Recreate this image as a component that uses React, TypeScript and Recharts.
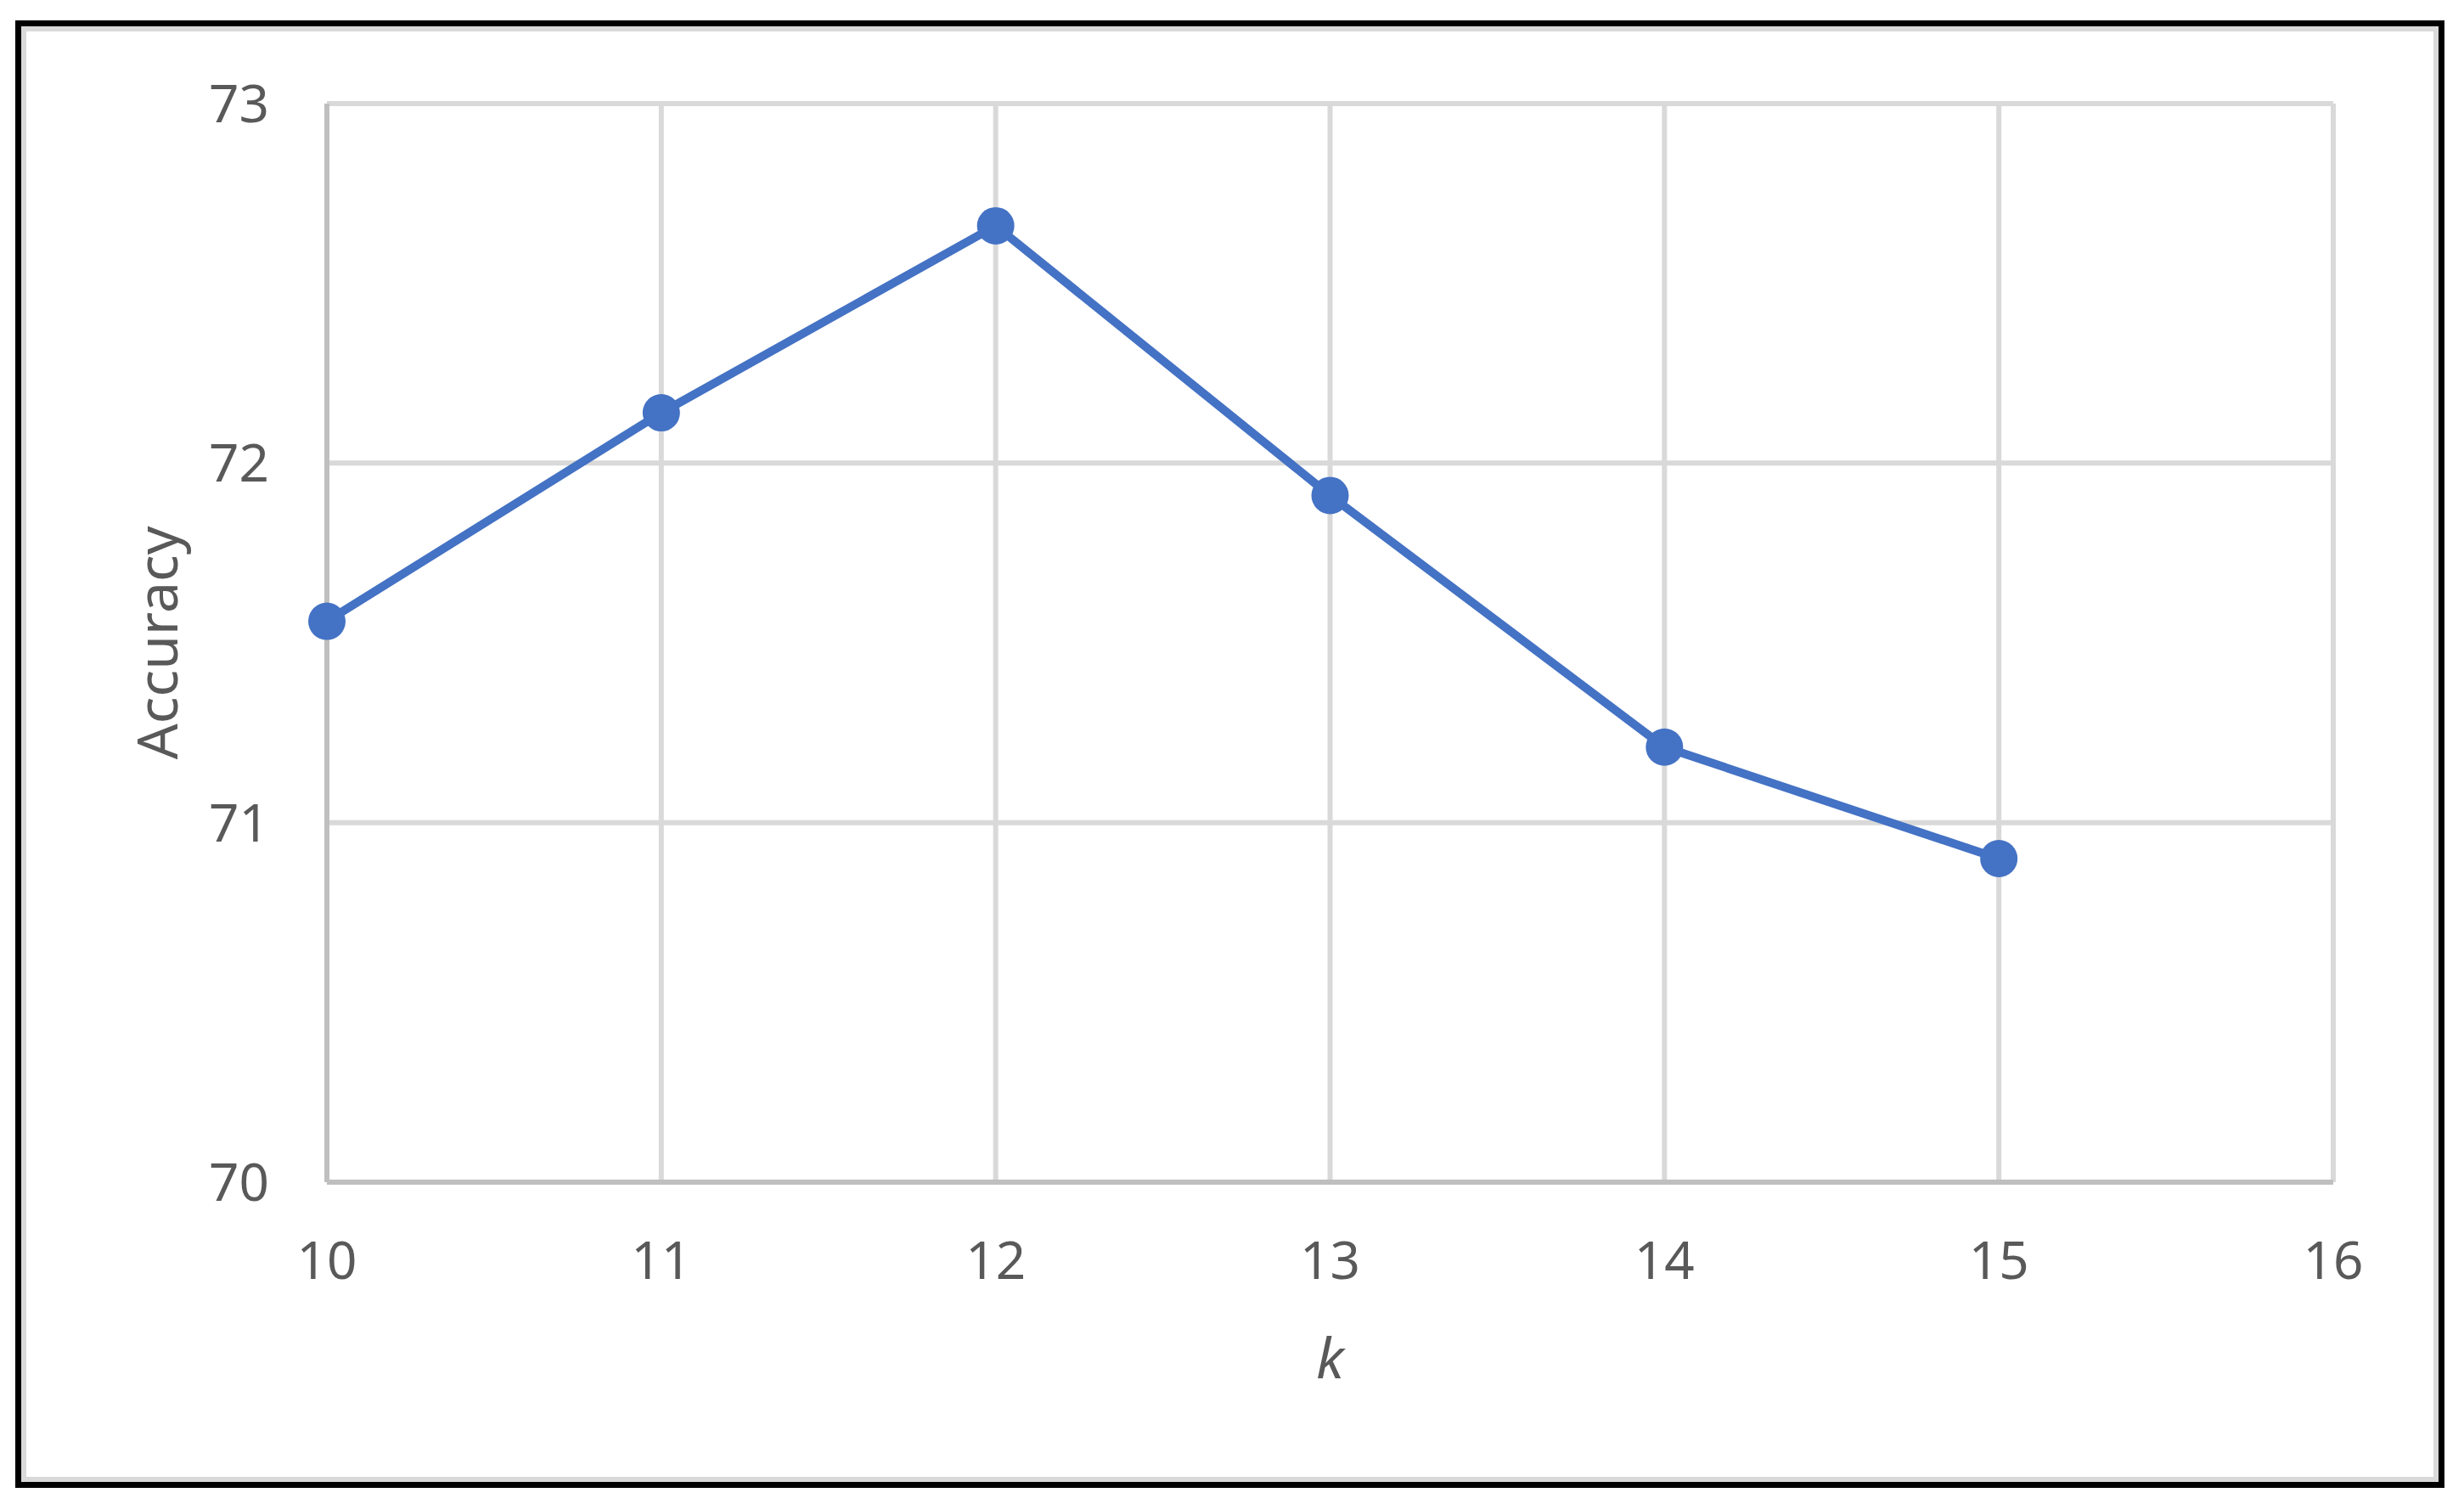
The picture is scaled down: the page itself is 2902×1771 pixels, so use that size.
import { LineChart, Line, XAxis, YAxis, CartesianGrid, Label } from "recharts"

// k values and accuracy
const K_VALUES = [10, 11, 12, 13, 14, 15]
const ACCURACY = [71.56, 72.14, 72.66, 71.91, 71.21, 70.9]

const X_TICKS = [10, 11, 12, 13, 14, 15, 16]
const Y_TICKS = [70, 71, 72, 73]

const DATA = K_VALUES.map((k, i) => ({ k, acc: ACCURACY[i] }))

const BLUE = "#4472C4"
const TEXT = "#595959"
const FONT = "'Noto Sans', 'Open Sans', sans-serif"

export default function App() {
  return (
    <div
      style={{
        position: "absolute",
        left: 0,
        top: 0,
        width: 2902,
        height: 1771,
        background: "#fff",
        fontFamily: FONT,
      }}
    >
      {/* black outer frame with the light grey chart border inside */}
      <div
        style={{
          position: "absolute",
          left: 18,
          top: 24,
          width: 2861,
          height: 1728,
          boxSizing: "border-box",
          border: "7px solid #000",
        }}
      >
        <div
          style={{
            width: "100%",
            height: "100%",
            boxSizing: "border-box",
            border: "6px solid #d9d9d9",
          }}
        />
      </div>

      <div style={{ position: "absolute", left: 0, top: 0 }}>
        <LineChart
          width={2902}
          height={1771}
          data={DATA}
          margin={{ top: 122, right: 154, left: 186, bottom: 148 }}
        >
          <CartesianGrid stroke="#d9d9d9" strokeWidth={6} />
          <XAxis
            dataKey="k"
            type="number"
            domain={[10, 16]}
            ticks={X_TICKS}
            height={231}
            tickLine={false}
            tickSize={0}
            tickMargin={70}
            axisLine={{ stroke: "#bfbfbf", strokeWidth: 6 }}
            tick={{ fill: TEXT, fontSize: 62, fontFamily: FONT }}
          >
            <Label
              value="k"
              position="insideBottom"
              offset={0}
              style={{ fill: TEXT, fontSize: 66, fontStyle: "italic", fontFamily: FONT }}
            />
          </XAxis>
          <YAxis
            type="number"
            domain={[70, 73]}
            ticks={Y_TICKS}
            width={199}
            tickLine={false}
            tickSize={0}
            tickMargin={68}
            axisLine={{ stroke: "#bfbfbf", strokeWidth: 6 }}
            tick={{ fill: TEXT, fontSize: 62, fontFamily: FONT }}
          >
            <Label
              value="Accuracy"
              angle={-90}
              position="insideLeft"
              offset={0}
              style={{ fill: TEXT, fontSize: 66, textAnchor: "middle", fontFamily: FONT }}
            />
          </YAxis>
          <Line
            dataKey="acc"
            type="linear"
            stroke={BLUE}
            strokeWidth={10}
            dot={{ r: 22, fill: BLUE, stroke: BLUE, strokeWidth: 0 }}
            activeDot={false}
            isAnimationActive={false}
          />
        </LineChart>
      </div>
    </div>
  )
}
